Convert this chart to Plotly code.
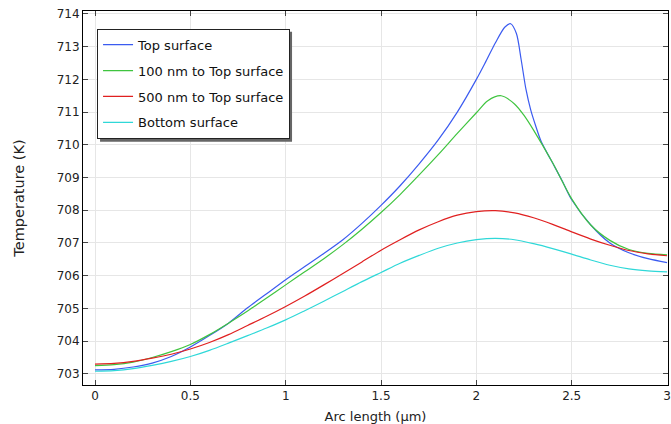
import plotly.graph_objects as go

# Arc length positions (µm)
arc = [0.0, 0.1, 0.2, 0.3, 0.4, 0.5, 0.6, 0.7, 0.8, 0.9, 1.0, 1.1, 1.2, 1.3, 1.4,
       1.5, 1.6, 1.7, 1.8, 1.9, 2.0, 2.1, 2.2, 2.3, 2.4, 2.5, 2.6, 2.7, 2.8, 2.9, 3.0]

# Top surface needs finer sampling around its sharp peak
arc_top = [0.0, 0.1, 0.2, 0.3, 0.4, 0.5, 0.6, 0.7, 0.8, 0.9, 1.0, 1.1, 1.2, 1.3, 1.4,
           1.5, 1.6, 1.7, 1.8, 1.9, 2.0, 2.05, 2.1, 2.15, 2.18, 2.21, 2.235, 2.26,
           2.285, 2.31, 2.34, 2.39, 2.45, 2.5, 2.6, 2.7, 2.8, 2.9, 3.0]
t_top = [703.12, 703.14, 703.21, 703.33, 703.53, 703.82, 704.17, 704.55, 705.02,
         705.45, 705.88, 706.28, 706.68, 707.1, 707.6, 708.15, 708.75, 709.42,
         710.15, 711.0, 712.0, 712.55, 713.12, 713.6, 713.7, 713.4, 712.6, 711.7,
         711.07, 710.6, 710.1, 709.55, 708.9, 708.32, 707.55, 707.0, 706.7, 706.52,
         706.4]

arc_100nm = [0.0, 0.1, 0.2, 0.3, 0.4, 0.5, 0.6, 0.7, 0.8, 0.9, 1.0, 1.1, 1.2, 1.3,
             1.4, 1.5, 1.6, 1.7, 1.8, 1.9, 2.0, 2.06, 2.13, 2.2, 2.25, 2.3, 2.4,
             2.5, 2.6, 2.7, 2.8, 2.9, 3.0]
t_100nm = [703.25, 703.28, 703.36, 703.5, 703.68, 703.9, 704.2, 704.55, 704.92,
           705.32, 705.72, 706.12, 706.52, 706.95, 707.42, 707.93, 708.48, 709.08,
           709.7, 710.35, 710.98, 711.35, 711.5, 711.25, 710.9, 710.45, 709.45,
           708.35, 707.55, 707.08, 706.8, 706.68, 706.64]

t_500nm = [703.3, 703.32, 703.38, 703.48, 703.6, 703.76, 703.96, 704.2, 704.48,
           704.76, 705.06, 705.38, 705.72, 706.07, 706.42, 706.78, 707.1, 707.4,
           707.65, 707.85, 707.96, 707.99, 707.92, 707.77, 707.57, 707.34, 707.12,
           706.93, 706.77, 706.67, 706.61]

t_bottom = [703.08, 703.1, 703.16, 703.26, 703.38, 703.53, 703.72, 703.94, 704.17,
            704.4, 704.65, 704.93, 705.22, 705.52, 705.82, 706.1, 706.38, 706.62,
            706.84, 707.0, 707.1, 707.14, 707.1, 706.98, 706.83, 706.66, 706.48,
            706.32, 706.21, 706.15, 706.12]

x_ticks = [0, 0.5, 1, 1.5, 2, 2.5, 3]
x_tick_text = ["0", "0.5", "1", "1.5", "2", "2.5", "3"]
y_ticks = list(range(703, 715))

FONT = "DejaVu Sans"

fig = go.Figure()
series = [
    ("Top surface", arc_top, t_top, "#3b5bf0"),
    ("100 nm to Top surface", arc_100nm, t_100nm, "#3fc43f"),
    ("500 nm to Top surface", arc, t_500nm, "#e02020"),
    ("Bottom surface", arc, t_bottom, "#2fd8d8"),
]
for i, (name, xs, ys, color) in enumerate(series):
    fig.add_trace(go.Scatter(
        x=xs, y=ys, name=name, mode="lines", legendgroup=f"g{i}",
        line=dict(color=color, width=1.2, shape="spline", smoothing=0.8),
    ))

axis_common = dict(
    showgrid=True, gridcolor="#e6e6e6", gridwidth=1,
    showline=True, linecolor="black", linewidth=1, mirror="ticks",
    ticks="inside", ticklen=5, tickcolor="#444", tickwidth=1,
    zeroline=False, automargin=False,
    tickfont=dict(family=FONT, size=12, color="#222"),
)

fig.update_xaxes(
    range=[-0.063, 3.005], tickvals=x_ticks, ticktext=x_tick_text,
    title=dict(text="Arc length (µm)", font=dict(family=FONT, size=13, color="#222"),
               standoff=12),
    **axis_common,
)
# Plot area kept clear of a slim bottom margin so the x title sits low
fig.update_yaxes(
    range=[702.66, 714.09], tickvals=y_ticks, domain=[19 / 393, 1],
    title=dict(text="Temperature (K)", font=dict(family=FONT, size=14.5, color="#222"),
               standoff=28),
    **axis_common,
)

# Legend drop shadow
fig.add_shape(
    type="rect", xref="paper", yref="paper",
    xsizemode="pixel", ysizemode="pixel",
    xanchor=0.024, yanchor=0.955,
    x0=3, x1=195, y0=-113, y1=-3,
    fillcolor="#666666", line=dict(width=0), layer="above",
)

fig.update_layout(
    width=671, height=424,
    margin=dict(l=83, r=3, t=11, b=20),
    paper_bgcolor="white", plot_bgcolor="white",
    font=dict(family=FONT, size=12, color="#222"),
    legend=dict(
        x=0.024, y=0.955, xanchor="left", yanchor="top",
        bgcolor="white", bordercolor="#222", borderwidth=1,
        font=dict(family=FONT, size=13, color="#111"),
        tracegroupgap=6, itemwidth=30,
    ),
)

fig.write_html("out.html")
